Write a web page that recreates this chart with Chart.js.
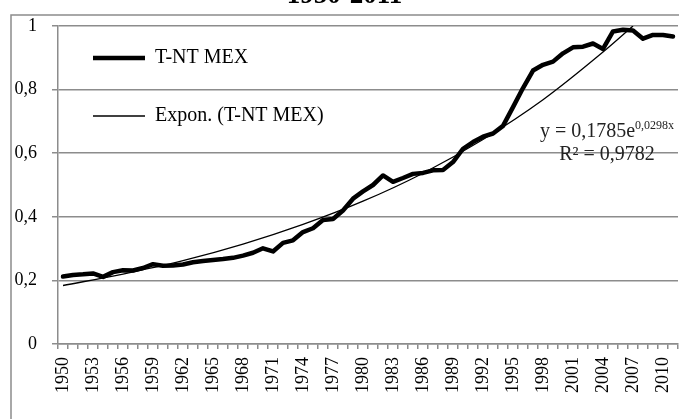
<!DOCTYPE html>
<html lang="es">
<head>
<meta charset="utf-8">
<title>T-NT MEX 1950-2011</title>
<script src="https://cdn.jsdelivr.net/npm/chart.js@4/dist/chart.umd.min.js"></script>
<style>
  html, body { margin: 0; padding: 0; background: #fff; overflow: hidden; }
  /* le graphique d'origine est rogné en haut et à droite */
  #cadre { position: absolute; left: 0; top: -30px; width: 706px; height: 460px; }
</style>
</head>
<body>
<div id="cadre"><canvas id="graphiqueTnt"></canvas></div>
<script>
// Données
const annees = [
  '1950', '1951', '1952', '1953', '1954', '1955', '1956', '1957', '1958', '1959',
  '1960', '1961', '1962', '1963', '1964', '1965', '1966', '1967', '1968', '1969',
  '1970', '1971', '1972', '1973', '1974', '1975', '1976', '1977', '1978', '1979',
  '1980', '1981', '1982', '1983', '1984', '1985', '1986', '1987', '1988', '1989',
  '1990', '1991', '1992', '1993', '1994', '1995', '1996', '1997', '1998', '1999',
  '2000', '2001', '2002', '2003', '2004', '2005', '2006', '2007', '2008', '2009',
  '2010', '2011'
];

const tntMex = [
  0.212, 0.217, 0.219, 0.222, 0.211, 0.226, 0.232, 0.231, 0.239, 0.251,
  0.246, 0.247, 0.250, 0.257, 0.261, 0.264, 0.267, 0.271, 0.278, 0.287,
  0.301, 0.291, 0.318, 0.326, 0.352, 0.364, 0.390, 0.393, 0.420, 0.457,
  0.480, 0.500, 0.530, 0.510, 0.522, 0.535, 0.538, 0.546, 0.547, 0.572,
  0.614, 0.635, 0.652, 0.662, 0.686, 0.745, 0.805, 0.860, 0.878, 0.888,
  0.914, 0.933, 0.935, 0.945, 0.928, 0.983, 0.988, 0.986, 0.960, 0.972,
  0.972, 0.967
];

// Courbe de tendance (exponentielle)
const anneesTendance = ['1950', '1956', '1962', '1968', '1974', '1980', '1986', '1992', '1998', '2004', '2007'];
const valeursTendance = [0.184, 0.220, 0.262, 0.314, 0.376, 0.449, 0.537, 0.643, 0.768, 0.918, 1.0];

const libelleSerie = 'T-NT MEX';
const libelleTendance = 'Expon. (T-NT MEX)';
const titre = '1950-2011';
const equation = 'y = 0,1785e';
const exposant = '0,0298x';
const r2 = 'R² = 0,9782';

const POLICE = '"Liberation Serif", "Times New Roman", serif';
const GRIS = '#8c8c8c';

/**
 * Formate une valeur de l'axe avec la virgule décimale
 */
function formatAxe(valeur) {
  const arrondi = Math.round(valeur * 10) / 10;
  return String(arrondi).replace('.', ',');
}

// Cadre gris de la zone du graphique
const cadreGraphique = {
  id: 'cadreGraphique',
  beforeDraw(chart) {
    const ctx = chart.ctx;
    ctx.save();
    ctx.strokeStyle = GRIS;
    ctx.lineWidth = 1.5;
    ctx.strokeRect(11, 45, 1000, 1000);
    ctx.restore();
  }
};

// Légende placée dans la zone de tracé, en haut à gauche
const placerLegende = {
  id: 'placerLegende',
  afterLayout(chart) {
    const legende = chart.legend;
    if (!legende) return;
    legende.left = chart.chartArea.left - 3;
    legende.top = chart.chartArea.top - 16;
  }
};

// Équation de la tendance et R²
const equationTendance = {
  id: 'equationTendance',
  afterDraw(chart) {
    const ctx = chart.ctx;
    const centreX = 607;
    ctx.save();
    ctx.fillStyle = '#222';
    ctx.textBaseline = 'alphabetic';
    ctx.textAlign = 'left';
    ctx.font = '20px ' + POLICE;
    const l1 = ctx.measureText(equation).width;
    ctx.font = '12px ' + POLICE;
    const l2 = ctx.measureText(exposant).width;
    const debut = centreX - (l1 + l2) / 2;
    ctx.font = '20px ' + POLICE;
    ctx.fillText(equation, debut, 167);
    ctx.font = '12px ' + POLICE;
    ctx.fillText(exposant, debut + l1, 159);
    ctx.font = '20px ' + POLICE;
    ctx.textAlign = 'center';
    ctx.fillText(r2, centreX, 190);
    ctx.restore();
  }
};

const ctx = document.getElementById('graphiqueTnt');

window.graphiqueTnt = new Chart(ctx, {
  type: 'line',
  data: {
    labels: annees,
    datasets: [
      {
        label: libelleSerie,
        data: tntMex,
        borderColor: '#000',
        backgroundColor: '#000',
        borderWidth: 4.5,
        borderJoinStyle: 'round',
        borderCapStyle: 'round',
        pointRadius: 0,
        tension: 0
      },
      {
        label: libelleTendance,
        data: anneesTendance.map((a, i) => ({ x: a, y: valeursTendance[i] })),
        borderColor: '#000',
        backgroundColor: '#000',
        borderWidth: 1.3,
        pointRadius: 0,
        cubicInterpolationMode: 'monotone'
      }
    ]
  },
  options: {
    responsive: true,
    maintainAspectRatio: false,
    animation: false,
    layout: {
      padding: { left: 11, right: 28, top: 0, bottom: 0 }
    },
    plugins: {
      title: {
        display: true,
        text: titre,
        color: '#000',
        font: { family: POLICE, size: 27, weight: 'bold', lineHeight: 1.2 },
        padding: { top: 9.8, bottom: 13.8 }
      },
      legend: {
        position: 'chartArea',
        align: 'start',
        labels: {
          color: '#000',
          font: { family: POLICE, size: 20 },
          usePointStyle: true,
          pointStyle: 'line',
          pointStyleWidth: 52,
          padding: 38
        }
      },
      tooltip: { enabled: false }
    },
    scales: {
      x: {
        type: 'category',
        offset: true,
        afterFit: (echelle) => { echelle.height = 86; },
        grid: {
          offset: true,
          drawOnChartArea: false,
          drawTicks: true,
          tickLength: 5,
          color: GRIS,
          lineWidth: 1.5
        },
        border: { display: true, color: GRIS, width: 1.5 },
        ticks: {
          autoSkip: false,
          maxRotation: 90,
          minRotation: 90,
          padding: 8,
          color: '#000',
          font: { family: POLICE, size: 18 },
          callback: function(valeur, index) {
            return index % 3 === 0 ? this.getLabelForValue(valeur) : '';
          }
        }
      },
      y: {
        min: 0,
        max: 1,
        afterFit: (echelle) => { echelle.width = 47; },
        grid: {
          color: GRIS,
          lineWidth: 1.5,
          tickLength: 6
        },
        border: { display: true, color: GRIS, width: 1.5 },
        ticks: {
          stepSize: 0.2,
          padding: 15,
          color: '#000',
          font: { family: POLICE, size: 18 },
          callback: formatAxe
        }
      }
    }
  },
  plugins: [cadreGraphique, placerLegende, equationTendance]
});
</script>
</body>
</html>
